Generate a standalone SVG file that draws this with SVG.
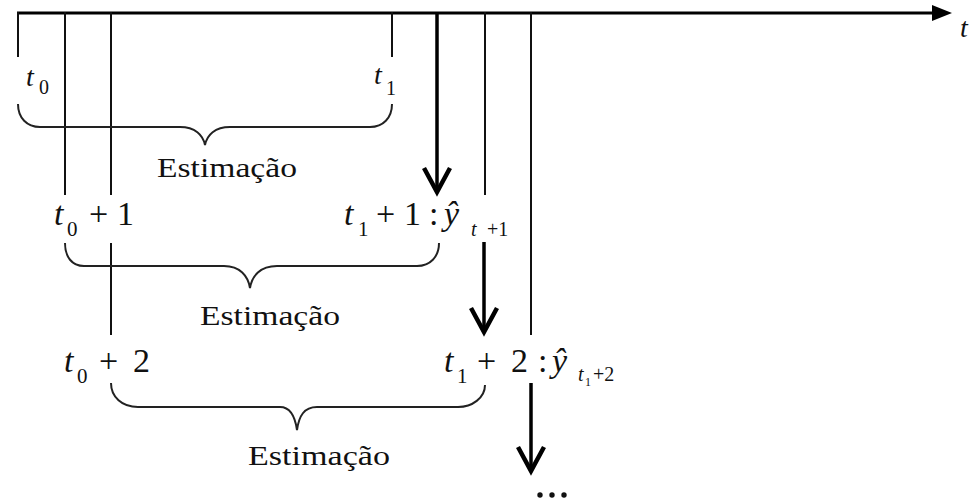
<svg xmlns="http://www.w3.org/2000/svg" width="971" height="501" viewBox="0 0 971 501">
<style>
.bg{fill:#ffffff}
.thin{stroke:#111;stroke-width:2;fill:none}
.axis{stroke:#000;stroke-width:3;fill:none}
.arr{stroke:#000;stroke-width:3.5;fill:none}
.head{stroke:#000;stroke-width:4.5;fill:none;stroke-linejoin:miter;stroke-linecap:butt}
.brace{stroke:#222;stroke-width:2;fill:none}
text{font-family:'Liberation Serif',serif;fill:#111}
.it{font-style:italic}
.m{font-size:34px}
.s{font-size:21px}
.ss{font-size:20px}
.est{font-size:27px}
</style>
<rect class="bg" width="971" height="501"/>
<g id="connectors">
  <line class="axis" x1="17" y1="13" x2="938" y2="13"/>
  <polygon points="932,5 952,13 932,21" fill="#000"/>
  <line class="thin" x1="18" y1="12" x2="18" y2="57"/>
  <line class="thin" x1="65" y1="12" x2="65" y2="195"/>
  <line class="thin" x1="111" y1="12" x2="111" y2="195"/>
  <line class="thin" x1="111" y1="243" x2="111" y2="335"/>
  <line class="thin" x1="392" y1="12" x2="392" y2="57"/>
  <line class="thin" x1="485" y1="12" x2="485" y2="195"/>
  <line class="thin" x1="531" y1="12" x2="531" y2="335"/>
  <line class="arr" x1="437" y1="12" x2="437" y2="190"/>
  <polyline class="head" points="424,168 437,192 450,168"/>
  <line class="arr" x1="484" y1="242" x2="484" y2="330"/>
  <polyline class="head" points="471,308 484,332 497,308"/>
  <line class="arr" x1="531" y1="383" x2="531" y2="469"/>
  <polyline class="head" points="518,447 531,471 544,447"/>
</g>
<g id="brace1">
  <path class="brace" d="M18,104 C18,118 27,127 40,127 L180,127 C195,127 203,135 205,145 C207,135 215,127 230,127 L370,127 C383,127 392,118 392,104"/>
  <text class="est" x="157" y="177" textLength="140" lengthAdjust="spacingAndGlyphs">Estimação</text>
</g>
<g id="brace2">
  <path class="brace" d="M65,243 C65,257 72,266 84,266 L224,266 C240,266 248,276 250,288 C252,276 260,266 277,266 L417,266 C430,266 439,257 439,243"/>
  <text class="est" x="200" y="325" textLength="140" lengthAdjust="spacingAndGlyphs">Estimação</text>
</g>
<g id="brace3">
  <path class="brace" d="M111,383 C111,397 122,407 138,407 L280,407 C290,407 295,416 297,430 C299,416 304,407 317,407 L458,407 C472,407 485,398 485,385"/>
  <text class="est" x="248" y="465" textLength="142" lengthAdjust="spacingAndGlyphs">Estimação</text>
</g>
<g id="label-t0">
  <text class="it" x="26" y="86" font-size="28">t</text>
  <text x="39" y="94" font-size="20">0</text>
</g>
<g id="label-t1">
  <text class="it" x="374" y="84" font-size="28">t</text>
  <text x="386" y="95" font-size="20">1</text>
</g>
<g id="label-t0p1">
  <text class="it m" x="54" y="225">t</text>
  <text class="s" x="67" y="236">0</text>
  <text class="m" x="89" y="225">+</text>
  <text class="m" x="117" y="225">1</text>
</g>
<g id="label-t1p1">
  <text class="it m" x="344" y="225">t</text>
  <text class="s" x="358" y="236">1</text>
  <text class="m" x="376" y="225">+</text>
  <text class="m" x="404" y="225">1</text>
  <text class="m" x="429" y="225">:</text>
  <text class="it m" x="444" y="225">ŷ</text>
  <text class="it ss" x="471" y="236">t</text>
  <text class="ss" x="487" y="236">+1</text>
</g>
<g id="label-t0p2">
  <text class="it m" x="64" y="372">t</text>
  <text class="s" x="77" y="383">0</text>
  <text class="m" x="99" y="372">+</text>
  <text class="m" x="133" y="372">2</text>
</g>
<g id="label-t1p2">
  <text class="it m" x="444" y="372">t</text>
  <text class="s" x="457" y="383">1</text>
  <text class="m" x="477" y="372">+</text>
  <text class="m" x="511" y="372">2</text>
  <text class="m" x="538" y="372">:</text>
  <text class="it m" x="552" y="372">ŷ</text>
  <text class="it ss" x="578" y="381">t</text>
  <text x="585" y="386" font-size="12">1</text>
  <text class="ss" x="593" y="381">+2</text>
</g>
<g id="label-axis-t">
  <text class="it" x="960" y="37" font-size="28">t</text>
</g>
<g id="ellipsis">
  <circle cx="540" cy="495" r="2.7" fill="#111"/>
  <circle cx="552" cy="495" r="2.7" fill="#111"/>
  <circle cx="564" cy="495" r="2.7" fill="#111"/>
</g>
</svg>
